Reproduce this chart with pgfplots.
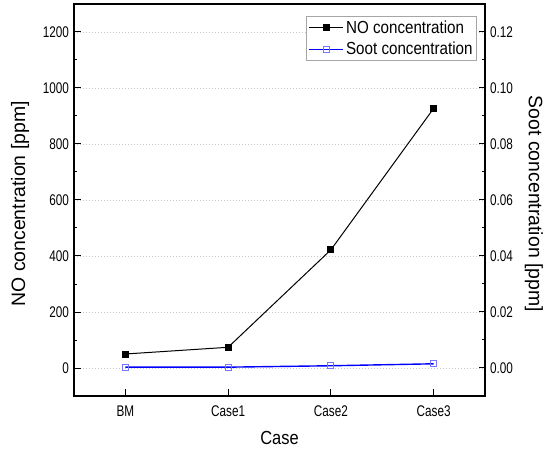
\documentclass[border=0pt]{standalone}
\usepackage{fontspec}
\setmainfont{Liberation Sans}[FakeStretch=0.87]
\newfontfamily\rotfont{Liberation Sans}
\newfontfamily\tickfam{Liberation Sans}[FakeStretch=0.76]
\usepackage{pgfplots}
\pgfplotsset{compat=1.18}
\definecolor{markblue}{RGB}{120,120,255}
\definecolor{lineblue}{RGB}{0,0,255}
\newcommand{\tickfont}{\tickfam\fontsize{15.5}{17}\selectfont}
\pgfplotsset{
  common/.style={
    scale only axis, width=411bp, height=392bp,
    at={(0,0)}, anchor=south west,
    xmin=-0.5, xmax=3.5,
    tick align=inside,
    major tick length=6.5bp, minor tick length=3.5bp,
    tick style={line width=1bp, black},
    axis line style={line width=1.2bp},
    /pgf/number format/assume math mode=true,
    /pgf/number format/set thousands separator={},
    scaled y ticks=false,
  }
}
\begin{document}
\begin{tikzpicture}
\begin{axis}[common, name=ax,
  ymin=-100, ymax=1300,
  xtick={0,1,2,3}, xticklabels={BM,Case1,Case2,Case3},
  ytick={0,200,400,600,800,1000,1200},
  minor y tick num=1,
  xtick pos=bottom, ytick pos=left,
  xticklabel style={yshift=-6bp, font=\tickfont},
  yticklabel style={xshift=-1.5bp, font=\tickfont},
  ymajorgrids,
  grid style={gray!45, dash pattern=on 1.5bp off 1.5bp, line width=0.6bp},
  xlabel={Case},
  every axis x label/.style={at={(axis description cs:0.5,-0.107)}, anchor=center, font=\fontsize{19}{22}\selectfont},
  ylabel={NO concentration [ppm]},
  every axis y label/.style={at={(axis description cs:-0.1314,0.49)}, rotate=90, anchor=center, font=\rotfont\fontsize{19.5}{22}\selectfont},
]
\addplot[black, line width=1bp, mark=square*, mark size=3bp, mark options={solid, fill=black}]
  coordinates {(0,50) (1,74) (2,422) (3,927)};
\end{axis}
\begin{axis}[common,
  ymin=-0.01, ymax=0.13,
  hide x axis, axis y line*=right,
  ytick={0,0.02,0.04,0.06,0.08,0.1,0.12},
  minor y tick num=1,
  yticklabel style={xshift=1.5bp, font=\tickfont, /pgf/number format/.cd, fixed, fixed zerofill, precision=2},
  ylabel={Soot concentration [ppm]},
  every axis y label/.style={at={(axis description cs:1.119,0.49)}, rotate=-90, anchor=center, font=\rotfont\fontsize{19.5}{22}\selectfont},
  legend style={at={(0.9805,0.969)}, anchor=north east, draw=gray!70, line width=0.8bp,
    font=\fontsize{17.5}{20}\selectfont, row sep=3.5bp, inner sep=2bp},
  legend cell align=left,
  legend image code/.code={\draw[mark repeat=2, mark phase=2] plot coordinates {(0bp,0bp) (17bp,0bp) (34bp,0bp)};},
]
\addlegendimage{black, line width=1bp, mark=square*, mark size=3bp, mark options={solid, fill=black}}
\addlegendentry{NO concentration}
\addplot[lineblue, line width=1.4bp, mark=square, mark size=3bp, mark options={solid, draw=markblue, fill=white, line width=0.9bp}]
  coordinates {(0,0.0003) (1,0.0003) (2,0.0008) (3,0.0015)};
\addlegendentry{Soot concentration}
\end{axis}
\pgfresetboundingbox
\path[use as bounding box] ([shift={(-74bp,-57bp)}]ax.south west) rectangle ([shift={(61bp,4bp)}]ax.north east);
\end{tikzpicture}
\end{document}
